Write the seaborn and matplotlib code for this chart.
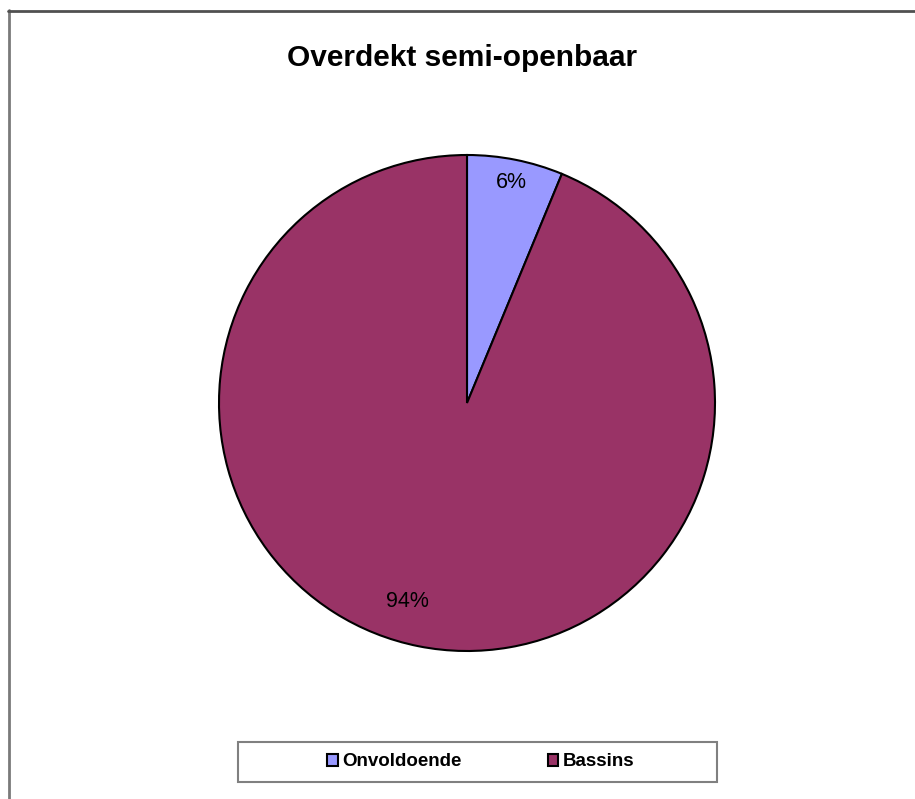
import matplotlib
matplotlib.use("Agg")
import matplotlib.pyplot as plt
from matplotlib.patches import Rectangle
from matplotlib.lines import Line2D
import seaborn as sns

categories = ["Onvoldoende", "Bassins"]
values = [1, 15]
colors = ["#9999FF", "#993366"]
title = "Overdekt semi-openbaar"

sns.set_style("white")
plt.rcParams['font.family'] = ['Liberation Sans', 'DejaVu Sans']
plt.rcParams['text.color'] = 'black'

W, H = 915, 799
fig = plt.figure(figsize=(W / 100, H / 100), dpi=100)

# pie centred at (467, 403) px with radius 248 px
cx, cy, r = 467, 403, 248
ax = fig.add_axes([(cx - r) / W, (H - cy - r) / H, 2 * r / W, 2 * r / H])
wedges, texts, autotexts = ax.pie(
    values, colors=colors, startangle=90, counterclock=False,
    autopct=lambda p: f"{p:.0f}%", pctdistance=0.87,
    wedgeprops=dict(edgecolor="black", linewidth=1.5),
    textprops=dict(fontsize=15.5, color="black"),
)
# label spots as Excel put them
autotexts[0].set_position((0.18, 0.89))
autotexts[1].set_position((-0.24, -0.80))
ax.set_xlim(-1, 1)
ax.set_ylim(-1, 1)
ax.set_aspect("auto")
ax.axis("off")

fig.text(462 / W, 1 - 58 / H, title, ha="center", va="center",
         fontsize=21.5, fontweight="bold", color="black")

# legend box
fig.patches.append(Rectangle((238 / W, 1 - 782 / H), (717 - 238) / W, 40 / H,
                             transform=fig.transFigure, facecolor="white",
                             edgecolor="#808080", linewidth=1.5, zorder=1))
leg = fig.legend(wedges, categories, loc="center", bbox_to_anchor=(481 / W, 1 - 762 / H),
                 ncol=2, frameon=False, handlelength=0.55, handleheight=0.55,
                 handletextpad=0.25, columnspacing=4.6,
                 prop=dict(size=13.5, weight="bold"))
for t in leg.get_texts():
    t.set_color("black")

# outer chart border (left and top only visible)
fig.lines.append(Line2D([8.5 / W, 8.5 / W], [0, 1 - 10 / H], transform=fig.transFigure,
                        color="#7a7a7a", linewidth=2))
fig.lines.append(Line2D([8 / W, 1], [1 - 10.5 / H, 1 - 10.5 / H], transform=fig.transFigure,
                        color="#505050", linewidth=2))

fig.savefig("out.png", dpi=100)
